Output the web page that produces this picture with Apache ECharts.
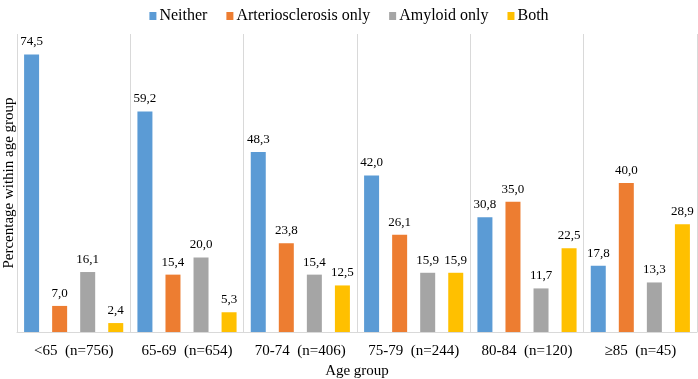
<!DOCTYPE html>
<html>
<head>
<meta charset="utf-8">
<script src="https://cdn.jsdelivr.net/npm/echarts@6/dist/echarts.min.js"></script>
<style>
  html, body { margin: 0; padding: 0; background: #fff; }
  #chart { width: 698px; height: 379px; }
</style>
</head>
<body>
<div id="chart"></div>
<script>
// 数据
const categories = ['<65 (n=756)', '65-69 (n=654)', '70-74 (n=406)', '75-79 (n=244)', '80-84 (n=120)', '≥85 (n=45)'];
const neither = [74.5, 59.2, 48.3, 42.0, 30.8, 17.8];
const arterioOnly = [7.0, 15.4, 23.8, 26.1, 35.0, 40.0];
const amyloidOnly = [16.1, 20.0, 15.4, 15.9, 11.7, 13.3];
const both = [2.4, 5.3, 12.5, 15.9, 22.5, 28.9];

const font = '"Liberation Serif", "Times New Roman", serif';

const chart = echarts.init(document.getElementById('chart'));

const makeSeries = (name, data, color) => ({
  name: name,
  type: 'bar',
  data: data,
  barWidth: 15,
  barGap: '87%',
  itemStyle: { color: color },
  label: {
    show: true,
    position: 'top',
    distance: 6,
    color: '#000',
    fontFamily: font,
    fontSize: 13,
    formatter: p => p.value.toFixed(1).replace('.', ',')
  }
});

const option = {
  backgroundColor: '#fff',
  animation: false,
  legend: {
    top: 3,
    left: 'center',
    itemWidth: 7,
    itemHeight: 8,
    itemGap: 19,
    icon: 'rect',
    textStyle: { fontFamily: font, fontSize: 16, color: '#000', padding: [0, 0, 0, -2] }
  },
  grid: { left: 17, right: 1, top: 34, bottom: 47, outerBoundsMode: 'none' },
  xAxis: {
    type: 'category',
    data: categories,
    name: 'Age group',
    nameLocation: 'middle',
    nameGap: 32,
    nameTextStyle: { fontFamily: font, fontSize: 15, color: '#000' },
    axisLine: { show: true, lineStyle: { color: '#d9d9d9' } },
    axisTick: { show: false },
    axisLabel: {
      interval: 0,
      fontFamily: font, fontSize: 15, color: '#000', margin: 12,
      formatter: v => v.replace(' ', '  ')
    },
    splitLine: { show: true, interval: 0, lineStyle: { color: '#d9d9d9' } }
  },
  yAxis: {
    type: 'value',
    min: 0,
    max: 80,
    name: 'Percentage within age group',
    nameLocation: 'middle',
    nameGap: 0,
    nameTextStyle: { fontFamily: font, fontSize: 15, color: '#000' },
    axisLine: { show: false },
    axisTick: { show: false },
    axisLabel: { show: false },
    splitLine: { show: false }
  },
  series: [
    makeSeries('Neither', neither, '#5B9BD5'),
    makeSeries('Arteriosclerosis only', arterioOnly, '#ED7D31'),
    makeSeries('Amyloid only', amyloidOnly, '#A5A5A5'),
    makeSeries('Both', both, '#FFC000')
  ]
};

chart.setOption(option);
</script>
</body>
</html>
